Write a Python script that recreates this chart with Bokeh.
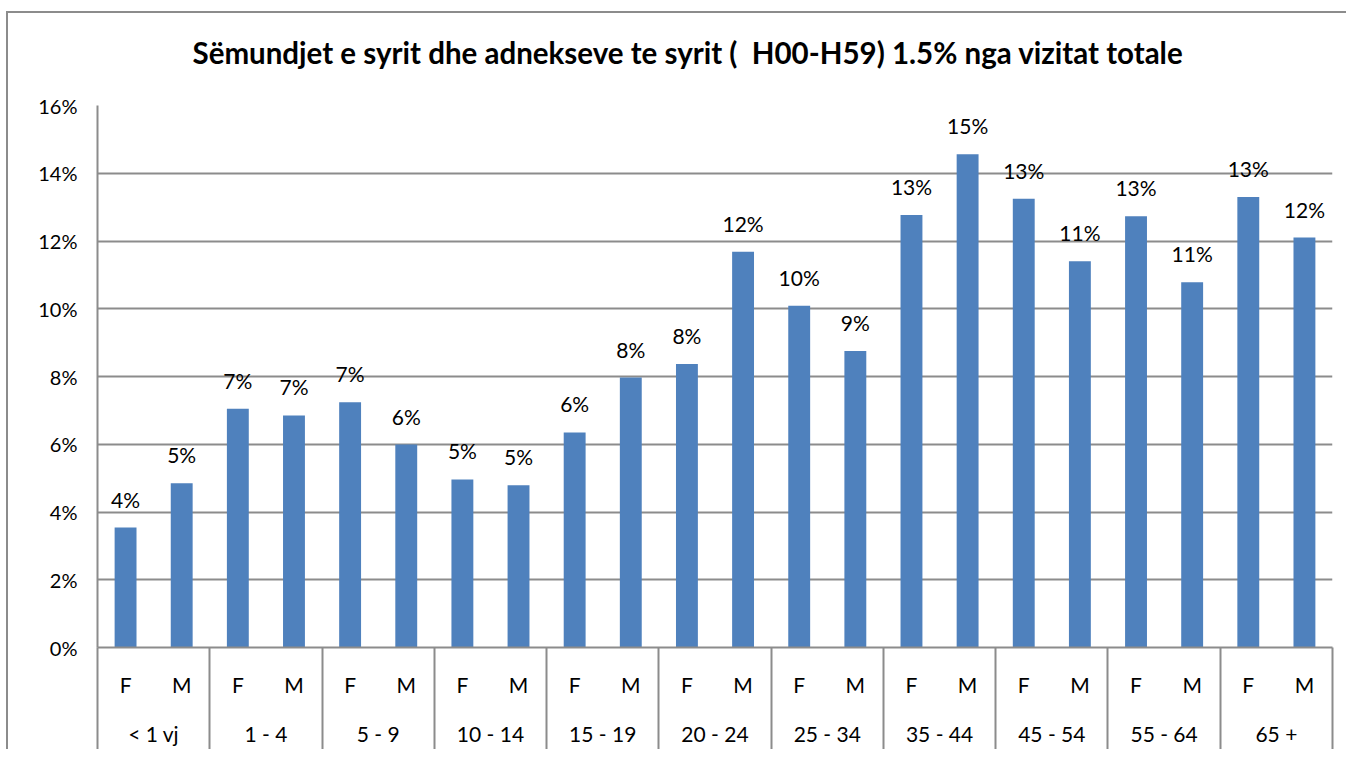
from bokeh.plotting import figure
from bokeh.models import (FactorRange, Range1d, LinearAxis, CategoricalAxis, CategoricalScale,
                          FixedTicker, PrintfTickFormatter, ColumnDataSource, LabelSet)
from bokeh.embed import file_html
from bokeh.resources import INLINE
from bokeh.core.properties import value

# ---------------- data ----------------
title_text = "Sëmundjet e syrit dhe adnekseve te syrit (\u00a0 H00-H59) 1.5% nga vizitat totale"
age_groups = ["< 1 vj", "1 - 4", "5 - 9", "10 - 14", "15 - 19", "20 - 24",
              "25 - 34", "35 - 44", "45 - 54", "55 - 64", "65 +"]
sexes = ["F", "M"]
female_pct = [3.54, 7.05, 7.24, 4.96, 6.35, 8.37, 10.09, 12.77, 13.25, 12.73, 13.30]
male_pct = [4.85, 6.85, 5.99, 4.79, 7.97, 11.68, 8.75, 14.56, 11.40, 10.78, 12.10]
y_ticks = [0, 2, 4, 6, 8, 10, 12, 14, 16]

# ---------------- styling ----------------
FONT = "Lato"
GRAY = "#8c8c8c"
BAR = "#4F81BD"

factors = [(a, s) for a in age_groups for s in sexes]
tops = []
for f, m in zip(female_pct, male_pct):
    tops += [f, m]
labels = [f"{round(v)}%" for v in tops]
src = ColumnDataSource(dict(x=factors, top=tops, label=labels))

x_range = FactorRange(*factors, range_padding=0, factor_padding=0,
                      group_padding=0, subgroup_padding=0)

p = figure(x_range=x_range, y_range=Range1d(y_ticks[0], y_ticks[-1]),
           width=1340, height=738, output_backend="svg", toolbar_location=None,
           min_border_left=89, min_border_right=16, min_border_top=92, min_border_bottom=104)
cat_axis = p.below[0]
ya = p.left[0]
p.margin = (11, 0, 0, 6)
p.styles = {"border-left": f"2px solid {GRAY}", "border-top": f"2px solid {GRAY}"}
p.outline_line_color = None
p.background_fill_color = "white"
p.border_fill_color = "white"

# title (outermost; an invisible spacer axis sits between it and the frame)
p.title.text = title_text
p.title.text_font = FONT
p.title.text_font_size = "29.5px"
p.title.text_font_style = "bold"
p.title.align = "left"
p.title.offset = 95
p.title.standoff = 10
p.title.text_color = "black"

spacer = LinearAxis(ticker=FixedTicker(ticks=[0]), major_tick_out=31, major_tick_in=0,
                    major_tick_line_color="white", minor_tick_line_color=None,
                    axis_line_color=None, major_label_standoff=0,
                    major_label_text_color=None, major_label_text_font_size="0px")
p.add_layout(spacer, "above")

# bars
p.vbar(x="x", top="top", width=0.39, source=src, fill_color=BAR, line_color=None)

p.add_layout(LabelSet(x="x", y="top", text="label", source=src, text_align="center",
                      text_baseline="alphabetic", y_offset=20, text_font=value(FONT),
                      text_font_size="21px", text_color="black"))

# y axis
yt = FixedTicker(ticks=y_ticks)
ya.ticker = yt
ya.formatter = PrintfTickFormatter(format="%d%%")
ya.axis_line_color = GRAY
ya.axis_line_width = 2
ya.major_tick_line_color = None
ya.minor_tick_line_color = None
ya.major_label_standoff = 14
ya.major_label_text_font = FONT
ya.major_label_text_font_size = "20px"
ya.major_label_text_color = "black"

p.ygrid.ticker = yt
p.ygrid.grid_line_color = GRAY
p.ygrid.grid_line_width = 2
p.xgrid.grid_line_color = None

# x axes: separators (group boundaries in synthetic coords), F/M, age groups
n_groups = len(age_groups)
n_sub = len(sexes)
p.extra_x_ranges = {"ages": FactorRange(*age_groups, range_padding=0, factor_padding=0)}
p.extra_x_scales = {"ages": CategoricalScale()}

sep_axis = LinearAxis(ticker=FixedTicker(ticks=[i * n_sub for i in range(n_groups + 1)]),
                      major_tick_in=-112, major_tick_out=0,
                      major_tick_line_color=GRAY, major_tick_line_width=2,
                      minor_tick_line_color=None, major_label_text_font_size="0px",
                      major_label_text_color=None,
                      major_label_standoff=0, axis_line_color=GRAY, axis_line_width=2)

cat_axis.major_tick_line_color = None
cat_axis.major_tick_out = 0
cat_axis.major_tick_in = 0
cat_axis.axis_line_color = None
cat_axis.major_label_standoff = 24
cat_axis.major_label_text_font = FONT
cat_axis.major_label_text_font_size = "21px"
cat_axis.major_label_text_color = "black"
cat_axis.group_text_font_size = "0px"
cat_axis.group_text_color = None
cat_axis.separator_line_color = None

age_axis = CategoricalAxis(x_range_name="ages", major_tick_line_color=None,
                           major_tick_out=0, major_tick_in=0, axis_line_color=None,
                           major_label_standoff=21, major_label_text_font=FONT,
                           major_label_text_font_size="21px", major_label_text_color="black")

p.below = [sep_axis, cat_axis, age_axis]

open("out.html", "w").write(file_html(p, INLINE))
